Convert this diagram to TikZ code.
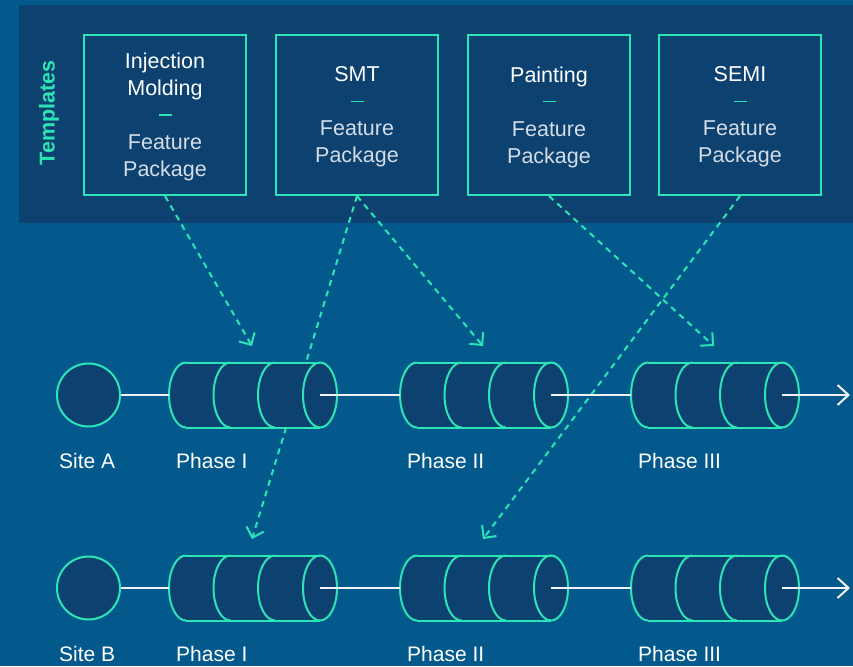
\documentclass[tikz,border=0pt]{standalone}
\usepackage{fontspec}
\setmainfont{Liberation Sans}
\usetikzlibrary{arrows.meta}

\definecolor{bgblue}{RGB}{4,89,140}
\definecolor{panelblue}{RGB}{12,65,112}
\definecolor{mint}{RGB}{45,228,182}
\definecolor{linewhite}{RGB}{240,242,245}
\definecolor{softtext}{RGB}{212,220,230}

\pgfdeclarelayer{base}
\pgfdeclarelayer{guides}
\pgfsetlayers{base,guides,main}

\newcommand{\sepmark}{\textcolor{mint}{\rule[7pt]{13pt}{1.2pt}}}

\tikzset{
  frame/.style={draw=mint, line width=2pt},
  pkgbox/.style={frame, fill=panelblue, minimum width=162pt, minimum height=160pt, inner sep=0pt},
  pkgtext/.style={inner sep=0pt, align=center, text=white, font=\fontsize{21.5}{27}\selectfont},
  site/.style={circle, frame, fill=panelblue, minimum size=63pt, inner sep=0pt},
  link/.style={draw=linewhite, line width=2pt},
  assign/.style={draw=mint, line width=2pt, dash pattern=on 6pt off 5pt,
    -{Straight Barb[length=9pt,width=18pt,line width=2pt]}},
  lbl/.style={anchor=west, inner sep=0pt, text=white, font=\fontsize{21}{25}\selectfont},
  phasecyl/.pic={
    % body: left half cap, straight sides, right full cap
    \fill[panelblue] (0,-32.5) -- (134,-32.5)
      arc[start angle=90, end angle=-90, x radius=17pt, y radius=32.5pt]
      -- (0,32.5)
      arc[start angle=270, end angle=90, x radius=17pt, y radius=32.5pt] -- cycle;
    \draw[frame] (0,-32.5) -- (134,-32.5) (0,32.5) -- (134,32.5);
    \foreach \cx in {0,44.5,89}
      \draw[frame] (\cx,-32.5) arc[start angle=90, end angle=270, x radius=17pt, y radius=32.5pt];
    \draw[frame] (134,0) ellipse[x radius=17pt, y radius=32.5pt];
    \coordinate (-in) at (-17,0);
    \coordinate (-out) at (134,0);
    \coordinate (-drop) at (66,-49);
  }
}

\begin{document}
\begin{tikzpicture}[x=1pt,y=-1pt]
\useasboundingbox (0,0) rectangle (853,666);

\begin{pgfonlayer}{base}
  \fill[bgblue] (0,0) rectangle (853,666);
  \node[fill=panelblue, anchor=north west, minimum width=834pt, minimum height=218pt,
        inner sep=0pt] (panel) at (19,5) {};
  \node[rotate=90, text=mint, font=\bfseries\fontsize{21.5}{25}\selectfont] (tpl) at (49,113) {Templates};

  \node[pkgbox] (inj)   at (165,115) {};
  \node[pkgbox] (smt)   at (357,115) {};
  \node[pkgbox] (paint) at (549,115) {};
  \node[pkgbox] (semi)  at (740,115) {};

  \node[pkgtext] (injT)   at (165,117) {Injection\\Molding\\\sepmark\\\textcolor{softtext}{Feature}\\\textcolor{softtext}{Package}};
  \node[pkgtext] (smtT)   at (357,117) {SMT\\\sepmark\\\textcolor{softtext}{Feature}\\\textcolor{softtext}{Package}};
  \node[pkgtext] (paintT) at (549,117) {Painting\\\sepmark\\\textcolor{softtext}{Feature}\\\textcolor{softtext}{Package}};
  \node[pkgtext] (semiT)  at (740,117) {SEMI\\\sepmark\\\textcolor{softtext}{Feature}\\\textcolor{softtext}{Package}};
\end{pgfonlayer}

% Site A
\node[site] (siteA) at (88.5,395) {};
\pic (A1) at (186,395) {phasecyl};
\pic (A2) at (417,395) {phasecyl};
\pic (A3) at (648,395) {phasecyl};
\coordinate (endA) at (850,395);

% Site B
\node[site] (siteB) at (88.5,588) {};
\pic (B1) at (186,588) {phasecyl};
\pic (B2) at (417,588) {phasecyl};
\pic (B3) at (648,588) {phasecyl};
\coordinate (endB) at (850,588);

% process flow
\draw[link] (siteA) -- (A1-in);
\draw[link] (A1-out) -- (A2-in);
\draw[link] (A2-out) -- (A3-in);
\draw[link, -{Straight Barb[length=11pt,width=20pt]}] (A3-out) -- (endA);

\draw[link] (siteB) -- (B1-in);
\draw[link] (B1-out) -- (B2-in);
\draw[link] (B2-out) -- (B3-in);
\draw[link, -{Straight Barb[length=11pt,width=20pt]}] (B3-out) -- (endB);

% labels
\node[lbl] (lsA)  at (59,461)  {Site A};
\node[lbl] (lA1)  at (176,461) {Phase I};
\node[lbl] (lA2)  at (407,461) {Phase II};
\node[lbl] (lA3)  at (638,461) {Phase III};
\node[lbl] (lsB)  at (59,654)  {Site B};
\node[lbl] (lB1)  at (176,654) {Phase I};
\node[lbl] (lB2)  at (407,654) {Phase II};
\node[lbl] (lB3)  at (638,654) {Phase III};

% template assignments
\begin{pgfonlayer}{guides}
  \draw[assign] (inj.south)   -- (A1-drop);
  \draw[assign] (smt.south)   -- (B1-drop);
  \draw[assign] (smt.south)   -- (A2-drop);
  \draw[assign] (paint.south) -- (A3-drop);
  \draw[assign] (semi.south)  -- (B2-drop);
\end{pgfonlayer}
\end{tikzpicture}
\end{document}
